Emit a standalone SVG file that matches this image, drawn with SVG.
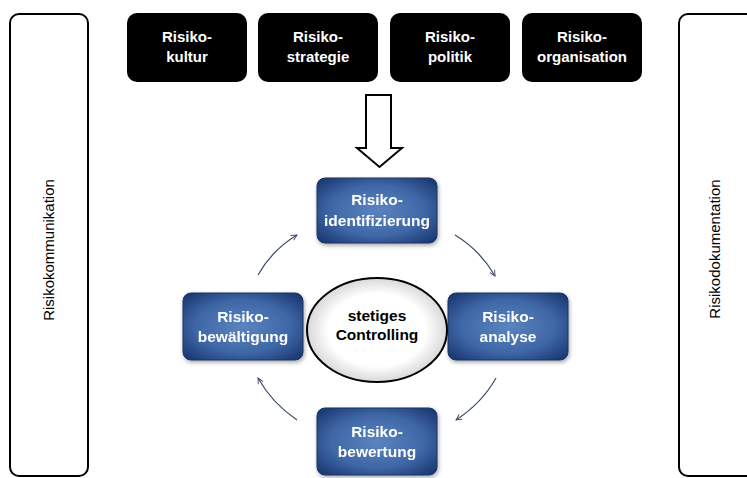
<svg xmlns="http://www.w3.org/2000/svg" width="747" height="478" viewBox="0 0 747 478">
<style>
.side{fill:#fff;stroke:#000;stroke-width:2}
.top{fill:#000}
.tt{font-family:"Liberation Sans",Arial,sans-serif;font-weight:bold;font-size:15px;fill:#fff;text-anchor:middle}
.blue{fill:url(#bg);stroke:#1a3466;stroke-width:1}
.bt{font-family:"Liberation Sans",Arial,sans-serif;font-weight:bold;font-size:15.5px;fill:#fff;text-anchor:middle}
.vt{font-family:"Liberation Sans",Arial,sans-serif;font-size:15px;fill:#000;text-anchor:middle}
.ct{font-family:"Liberation Sans",Arial,sans-serif;font-weight:bold;font-size:15.5px;fill:#000;text-anchor:middle}
.cyc{fill:none;stroke:#3c4a66;stroke-width:1.2;marker-end:url(#ah)}
</style>
<defs>
<radialGradient id="bg" cx="50%" cy="50%" r="65%">
<stop offset="0" stop-color="#5b84c0"/>
<stop offset="0.6" stop-color="#3f67a6"/>
<stop offset="1" stop-color="#1c3a74"/>
</radialGradient>
<radialGradient id="eg" cx="50%" cy="50%" r="50%">
<stop offset="0.7" stop-color="#fff"/>
<stop offset="1" stop-color="#d8d8d8"/>
</radialGradient>
<filter id="sh" x="-10%" y="-10%" width="130%" height="130%">
<feGaussianBlur in="SourceAlpha" stdDeviation="2"/>
<feOffset dx="1" dy="2"/>
<feComponentTransfer><feFuncA type="linear" slope="0.35"/></feComponentTransfer>
<feMerge><feMergeNode/><feMergeNode in="SourceGraphic"/></feMerge>
</filter>
<marker id="ah" viewBox="0 0 10 10" refX="9" refY="5" markerWidth="7" markerHeight="7" orient="auto" markerUnits="userSpaceOnUse">
<path d="M1,1 L9,5 L1,9" fill="none" stroke="#3c4a66" stroke-width="1.3"/>
</marker>
</defs>
<rect width="747" height="478" fill="#fff"/>

<g id="risikokommunikation">
<rect class="side" x="10" y="14" width="78" height="462" rx="9"/>
<text class="vt" transform="translate(54,250) rotate(-90)">Risikokommunikation</text>
</g>
<g id="risikodokumentation">
<rect class="side" x="679" y="14" width="90" height="462" rx="9"/>
<text class="vt" transform="translate(720,249) rotate(-90)">Risikodokumentation</text>
</g>

<g id="risikokultur">
<rect class="top" x="127" y="13" width="120" height="69" rx="10"/>
<text class="tt" x="187" y="42">Risiko-</text>
<text class="tt" x="187" y="62">kultur</text>
</g>
<g id="risikostrategie">
<rect class="top" x="258" y="13" width="120" height="69" rx="10"/>
<text class="tt" x="318" y="42">Risiko-</text>
<text class="tt" x="318" y="62">strategie</text>
</g>
<g id="risikopolitik">
<rect class="top" x="390" y="13" width="120" height="69" rx="10"/>
<text class="tt" x="450" y="42">Risiko-</text>
<text class="tt" x="450" y="62">politik</text>
</g>
<g id="risikoorganisation">
<rect class="top" x="522" y="13" width="120" height="69" rx="10"/>
<text class="tt" x="582" y="42">Risiko-</text>
<text class="tt" x="582" y="62">organisation</text>
</g>

<g id="input-arrow">
<path d="M366,95 H391 V148 H402 L379.5,167 L357,148 H366 Z" fill="#fff" stroke="#000" stroke-width="2" stroke-linejoin="miter"/>
</g>

<g id="risikoidentifizierung" filter="url(#sh)">
<rect class="blue" x="317" y="178" width="120" height="65" rx="8"/>
<text class="bt" x="377" y="205">Risiko-</text>
<text class="bt" x="377" y="226">identifizierung</text>
</g>
<g id="risikoanalyse" filter="url(#sh)">
<rect class="blue" x="448" y="293" width="120" height="67" rx="8"/>
<text class="bt" x="508" y="322">Risiko-</text>
<text class="bt" x="508" y="342">analyse</text>
</g>
<g id="risikobewertung" filter="url(#sh)">
<rect class="blue" x="317" y="408" width="120" height="67" rx="8"/>
<text class="bt" x="377" y="437">Risiko-</text>
<text class="bt" x="377" y="457">bewertung</text>
</g>
<g id="risikobewaeltigung" filter="url(#sh)">
<rect class="blue" x="183" y="293" width="120" height="67" rx="8"/>
<text class="bt" x="243" y="322">Risiko-</text>
<text class="bt" x="243" y="342">bewältigung</text>
</g>

<g id="stetiges-controlling">
<ellipse cx="377" cy="330" rx="70" ry="52" fill="url(#eg)" stroke="#000" stroke-width="2"/>
<text class="ct" x="377" y="321">stetiges</text>
<text class="ct" x="377" y="340">Controlling</text>
</g>

<g id="connectors">
<path class="cyc" d="M258,275 Q272,250 297,235"/>
<path class="cyc" d="M455,235 Q480,250 495,276"/>
<path class="cyc" d="M496,378 Q482,403 456,420"/>
<path class="cyc" d="M297,420 Q272,403 258,378"/>
</g>
</svg>
